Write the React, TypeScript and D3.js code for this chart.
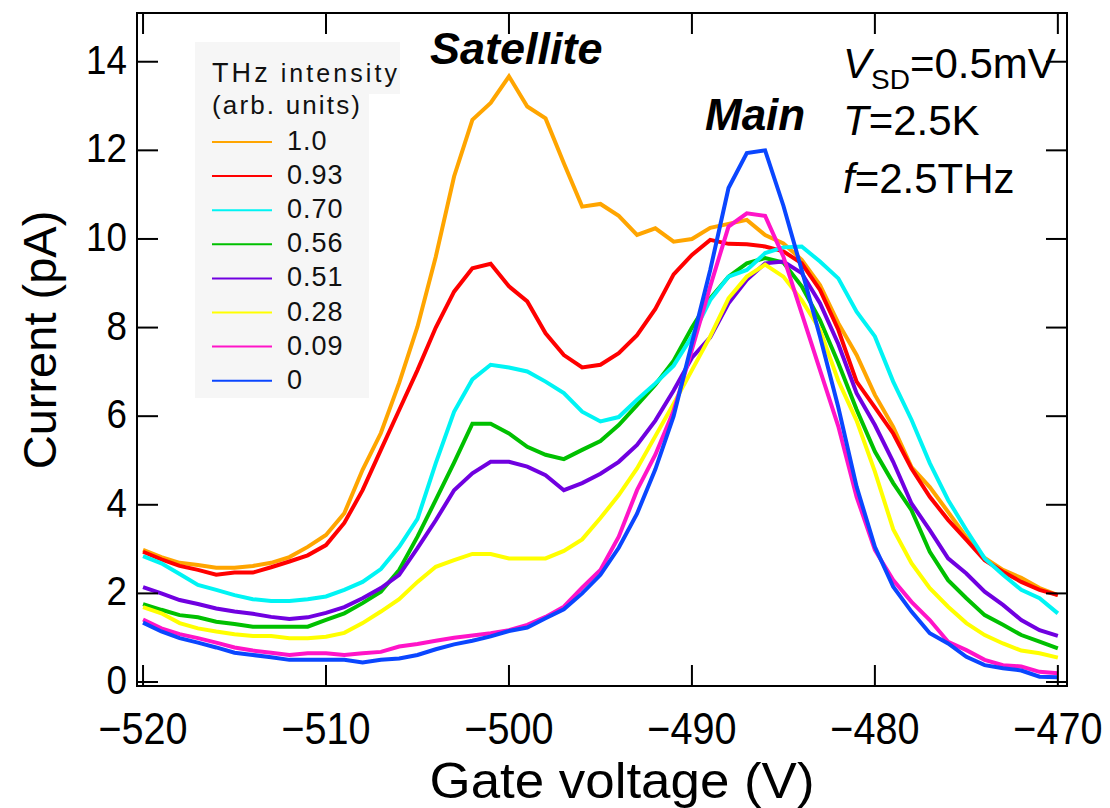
import React from 'react';
import * as d3 from 'd3';

// gate voltage samples (V)
const gateVoltage = [
  -520, -519, -518, -517, -516, -515, -514, -513, -512, -511,
  -510, -509, -508, -507, -506, -505, -504, -503, -502, -501,
  -500, -499, -498, -497, -496, -495, -494, -493, -492, -491,
  -490, -489, -488, -487, -486, -485, -484, -483, -482, -481,
  -480, -479, -478, -477, -476, -475, -474, -473, -472, -471, -470,
];

// current (pA) for each THz intensity
const current100 = [
  2.98, 2.82, 2.69, 2.64, 2.58, 2.58, 2.62, 2.69, 2.82, 3.05,
  3.32, 3.81, 4.79, 5.62, 6.75, 8.02, 9.6, 11.41, 12.69, 13.07,
  13.67, 12.99, 12.72, 11.71, 10.73, 10.79, 10.52, 10.09, 10.24, 9.94,
  10.0, 10.25, 10.34, 10.43, 10.09, 9.9, 9.53, 8.96, 8.1, 7.38,
  6.48, 5.76, 4.85, 4.4, 3.84, 3.27, 2.8, 2.53, 2.35, 2.12, 1.96,
];
const current093 = [
  2.94, 2.77, 2.62, 2.53, 2.42, 2.47, 2.47, 2.59, 2.72, 2.86,
  3.09, 3.59, 4.33, 5.24, 6.14, 7.04, 8.0, 8.81, 9.34, 9.44,
  8.93, 8.59, 7.87, 7.38, 7.1, 7.16, 7.42, 7.83, 8.42, 9.2,
  9.64, 9.98, 9.89, 9.88, 9.83, 9.72, 9.45, 8.85, 7.95, 6.78,
  6.2, 5.61, 4.82, 4.18, 3.66, 3.21, 2.75, 2.49, 2.26, 2.08, 1.96,
];
const current070 = [
  2.84, 2.68, 2.44, 2.19, 2.08, 1.96, 1.87, 1.83, 1.83, 1.87,
  1.93, 2.08, 2.26, 2.55, 3.05, 3.68, 4.94, 6.1, 6.83, 7.16,
  7.1, 7.01, 6.78, 6.52, 6.1, 5.88, 5.98, 6.37, 6.74, 7.14,
  7.8, 8.62, 9.15, 9.3, 9.68, 9.81, 9.83, 9.49, 9.11, 8.36,
  7.8, 6.78, 5.92, 4.94, 4.11, 3.43, 2.79, 2.42, 2.08, 1.89, 1.55,
];
const current056 = [
  1.76, 1.63, 1.51, 1.46, 1.36, 1.31, 1.25, 1.25, 1.25, 1.25,
  1.4, 1.55, 1.78, 2.04, 2.53, 3.28, 4.11, 4.95, 5.83, 5.83,
  5.61, 5.31, 5.13, 5.03, 5.24, 5.44, 5.8, 6.25, 6.71, 7.25,
  8.0, 8.66, 9.15, 9.45, 9.57, 9.47, 8.93, 8.17, 7.2, 6.15,
  5.2, 4.49, 3.88, 2.94, 2.3, 1.89, 1.51, 1.29, 1.06, 0.91, 0.76,
];
const current051 = [
  2.14, 2.0, 1.85, 1.76, 1.66, 1.59, 1.54, 1.47, 1.42, 1.46,
  1.56, 1.69, 1.89, 2.12, 2.42, 3.02, 3.65, 4.33, 4.71, 4.97,
  4.97, 4.86, 4.67, 4.33, 4.49, 4.7, 4.97, 5.35, 5.9, 6.58,
  7.32, 7.78, 8.55, 9.08, 9.45, 9.49, 9.23, 8.55, 7.63, 6.52,
  5.8, 4.97, 4.03, 3.43, 2.79, 2.45, 2.04, 1.74, 1.4, 1.17, 1.04,
];
const current028 = [
  1.69, 1.55, 1.33, 1.21, 1.14, 1.08, 1.04, 1.04, 0.99, 0.99,
  1.02, 1.11, 1.33, 1.59, 1.87, 2.26, 2.6, 2.75, 2.89, 2.89,
  2.79, 2.79, 2.79, 2.96, 3.22, 3.7, 4.22, 4.82, 5.55, 6.28,
  7.04, 7.8, 8.66, 9.15, 9.42, 9.15, 8.62, 7.95, 6.8, 5.9,
  4.75, 3.45, 2.68, 2.12, 1.7, 1.33, 1.06, 0.87, 0.71, 0.65, 0.55,
];
const current009 = [
  1.41, 1.21, 1.08, 0.99, 0.89, 0.78, 0.71, 0.66, 0.61, 0.65,
  0.65, 0.61, 0.65, 0.68, 0.8, 0.86, 0.93, 1.0, 1.05, 1.1,
  1.17, 1.29, 1.47, 1.7, 2.13, 2.53, 3.28, 4.33, 5.13, 6.12,
  7.5, 8.93, 10.28, 10.58, 10.52, 9.6, 8.32, 7.04, 5.77, 4.18,
  2.98, 2.3, 1.81, 1.4, 0.91, 0.72, 0.5, 0.38, 0.35, 0.23, 0.2,
];
const current000 = [
  1.34, 1.14, 0.99, 0.89, 0.78, 0.66, 0.61, 0.56, 0.5, 0.5,
  0.5, 0.5, 0.44, 0.5, 0.53, 0.61, 0.74, 0.85, 0.93, 1.03,
  1.15, 1.23, 1.44, 1.64, 2.0, 2.42, 3.03, 3.8, 4.8, 6.0,
  7.65, 9.3, 11.15, 11.94, 12.0, 10.75, 9.3, 7.8, 6.2, 4.41,
  3.05, 2.15, 1.59, 1.1, 0.87, 0.57, 0.38, 0.31, 0.26, 0.12, 0.11,
];

const intensityLabels = ['1.0', '0.93', '0.70', '0.56', '0.51', '0.28', '0.09', '0'];
const seriesColors = ['#ffa500', '#ff0000', '#00f4f4', '#00c000', '#7000e0', '#ffff00', '#ff14c8', '#0a46ff'];
const seriesValues = [current100, current093, current070, current056, current051, current028, current009, current000];
// drawn back to front
const drawOrder = [0, 1, 3, 4, 5, 2, 6, 7];

const xTicks = [-520, -510, -500, -490, -480, -470];
const yTicks = [0, 2, 4, 6, 8, 10, 12, 14];

const W = 1110;
const H = 808;
const FONT = '"Liberation Sans", Arial, Helvetica, sans-serif';

export default function App() {
  const x = d3.scaleLinear().domain([-520.33, -469.5]).range([137, 1067]);
  const y = d3.scaleLinear().domain([-0.09, 15.1]).range([686, 13]);
  const [x0, x1] = x.range();
  const [y0, y1] = y.range();
  const tickLen = 21;

  const line = d3.line<number>()
    .x((_, i) => x(gateVoltage[i]))
    .y(d => y(d));

  const fmt = (v: number) => (v < 0 ? '\u2212' + Math.abs(v) : String(v));

  // legend layout
  const lgX = 212;
  const lgRow0 = 150;
  const lgStep = 34.1;

  return (
    <svg width={W} height={H} style={{ position: 'absolute', left: 0, top: 0, background: '#fff' }}
      fontFamily={FONT}>
      {/* legend background */}
      <rect x={195} y={42} width={205} height={52} fill="#f6f6f6" />
      <rect x={195} y={42} width={174} height={356} fill="#f6f6f6" />
      <text x={lgX} y={82} fontSize={27} fill="#111" textLength={185} lengthAdjust="spacing">
        THz<tspan fontSize={25}> intensity</tspan>
      </text>
      <text x={lgX} y={114} fontSize={26} fill="#111" textLength={148} lengthAdjust="spacing">(arb. units)</text>
      {intensityLabels.map((lab, i) => (
        <g key={lab}>
          <line x1={lgX} x2={lgX + 60} y1={lgRow0 + i * lgStep - 8} y2={lgRow0 + i * lgStep - 8}
            stroke={seriesColors[i]} strokeWidth={2} />
          <text x={lgX + 75} y={lgRow0 + i * lgStep} fontSize={27} letterSpacing={1} fill="#111">{lab}</text>
        </g>
      ))}

      {/* data */}
      <g fill="none" strokeWidth={4} strokeLinejoin="miter" strokeMiterlimit={3}>
        {drawOrder.map(i => (
          <path key={i} d={line(seriesValues[i]) || ''} stroke={seriesColors[i]} />
        ))}
      </g>

      {/* frame */}
      <rect x={x0} y={y1} width={x1 - x0} height={y0 - y1} fill="none" stroke="#000" strokeWidth={2} />
      {xTicks.map(t => (
        <g key={t} stroke="#000" strokeWidth={2}>
          <line x1={x(t)} x2={x(t)} y1={y0} y2={y0 - tickLen} />
          <line x1={x(t)} x2={x(t)} y1={y1} y2={y1 + tickLen} />
        </g>
      ))}
      {yTicks.map(t => (
        <g key={t} stroke="#000" strokeWidth={2}>
          <line x1={x0} x2={x0 + tickLen} y1={y(t)} y2={y(t)} />
          <line x1={x1} x2={x1 - tickLen} y1={y(t)} y2={y(t)} />
        </g>
      ))}

      {/* tick labels */}
      {xTicks.map(t => (
        <text key={t} transform={`translate(${x(t)},744) scale(0.9,1)`} fontSize={44}
          textAnchor="middle" fill="#000">{fmt(t)}</text>
      ))}
      {yTicks.map(t => (
        <text key={t} transform={`translate(127,${y(t)}) scale(0.92,1)`} dy="0.3em" fontSize={40}
          textAnchor="end" fill="#000">{t}</text>
      ))}

      {/* axis titles */}
      <text x={622} y={798} fontSize={50} textAnchor="middle" textLength={385} lengthAdjust="spacingAndGlyphs"
        fill="#000">Gate voltage (V)</text>
      <text transform="translate(56,340) rotate(-90)" fontSize={47} textAnchor="middle" fill="#000">Current (pA)</text>

      {/* annotations */}
      <text x={430} y={64} fontSize={45} fontWeight="bold" fontStyle="italic" fill="#000">Satellite</text>
      <text x={705} y={130} fontSize={44} fontWeight="bold" fontStyle="italic" fill="#000">Main</text>
      <text x={843} y={78} fontSize={42} fill="#000">
        <tspan fontStyle="italic">V</tspan>
        <tspan fontSize={28} dy={11}>SD</tspan>
        <tspan dy={-11}>=0.5mV</tspan>
      </text>
      <text x={843} y={135} fontSize={42} fill="#000">
        <tspan fontStyle="italic">T</tspan>=2.5K
      </text>
      <text x={843} y={193} fontSize={42} fill="#000">
        <tspan fontStyle="italic">f</tspan>=2.5THz
      </text>
    </svg>
  );
}
